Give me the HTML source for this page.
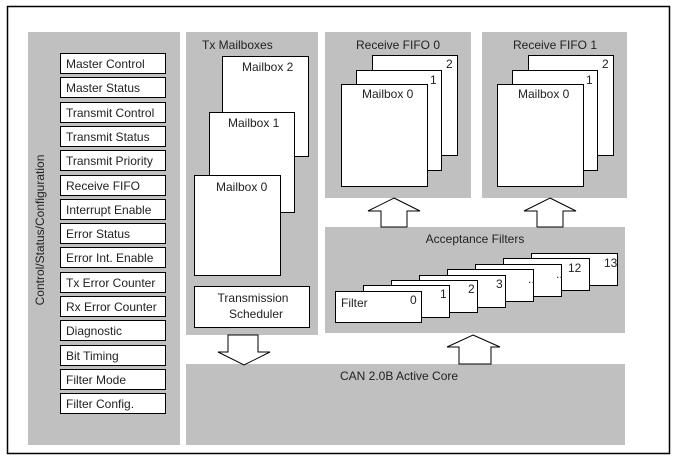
<!DOCTYPE html>
<html><head><meta charset="utf-8"><style>
html,body{margin:0;padding:0;background:#fff;width:679px;height:464px;overflow:hidden}
text{font-family:"Liberation Sans",Arial,sans-serif;font-size:12px;fill:#222}
</style></head><body>
<svg width="679" height="464" xmlns="http://www.w3.org/2000/svg">
<rect x="7.5" y="6.5" width="662" height="447" fill="#fff" stroke="#000" stroke-width="1.5"/>
<g fill="#c0c0c0">
<rect x="28" y="32" width="152" height="413"/>
<rect x="186" y="32" width="132" height="303"/>
<rect x="325" y="32" width="146" height="166"/>
<rect x="482" y="32" width="145" height="166"/>
<rect x="325" y="227" width="300" height="106"/>
<rect x="186" y="364" width="439" height="81"/>
</g>
<text x="44" y="230" text-anchor="middle" transform="rotate(-90 44 230)">Control/Status/Configuration</text>
<g stroke="#000" stroke-width="1" fill="#fff">
<rect x="60.5" y="53.5" width="105" height="20"/>
<rect x="60.5" y="77.5" width="105" height="20"/>
<rect x="60.5" y="102.5" width="105" height="20"/>
<rect x="60.5" y="126.5" width="105" height="20"/>
<rect x="60.5" y="150.5" width="105" height="20"/>
<rect x="60.5" y="175.5" width="105" height="20"/>
<rect x="60.5" y="199.5" width="105" height="20"/>
<rect x="60.5" y="223.5" width="105" height="20"/>
<rect x="60.5" y="247.5" width="105" height="20"/>
<rect x="60.5" y="272.5" width="105" height="20"/>
<rect x="60.5" y="296.5" width="105" height="20"/>
<rect x="60.5" y="320.5" width="105" height="20"/>
<rect x="60.5" y="345.5" width="105" height="20"/>
<rect x="60.5" y="369.5" width="105" height="20"/>
<rect x="60.5" y="393.5" width="105" height="20"/>
</g>
<g>
<text x="66" y="68">Master Control</text>
<text x="66" y="92">Master Status</text>
<text x="66" y="117">Transmit Control</text>
<text x="66" y="141">Transmit Status</text>
<text x="66" y="165">Transmit Priority</text>
<text x="66" y="190">Receive FIFO</text>
<text x="66" y="214">Interrupt Enable</text>
<text x="66" y="238">Error Status</text>
<text x="66" y="262">Error Int. Enable</text>
<text x="66" y="287">Tx Error Counter</text>
<text x="66" y="311">Rx Error Counter</text>
<text x="66" y="335">Diagnostic</text>
<text x="66" y="360">Bit Timing</text>
<text x="66" y="384">Filter Mode</text>
<text x="66" y="408">Filter Config.</text>
</g>
<text x="202" y="49">Tx Mailboxes</text>
<g stroke="#000" stroke-width="1" fill="#fff">
<rect x="222.5" y="56.5" width="86" height="100"/>
<rect x="209.5" y="112.5" width="85" height="100"/>
<rect x="194.5" y="175.5" width="86" height="100"/>
<rect x="194.5" y="286.5" width="115" height="41"/>
</g>
<text x="242" y="71">Mailbox 2</text>
<text x="228" y="127">Mailbox 1</text>
<text x="216" y="191">Mailbox 0</text>
<text x="253" y="302" text-anchor="middle">Transmission</text>
<text x="256" y="318" text-anchor="middle">Scheduler</text>
<text x="398" y="49" text-anchor="middle">Receive FIFO 0</text>
<text x="555" y="49" text-anchor="middle">Receive FIFO 1</text>
<g stroke="#000" stroke-width="1" fill="#fff">
<rect x="372.5" y="55.5" width="85" height="100"/>
<rect x="356.5" y="70.5" width="85" height="100"/>
<rect x="341.5" y="84.5" width="86" height="102"/>
<rect x="528.5" y="55.5" width="85" height="100"/>
<rect x="512.5" y="70.5" width="85" height="100"/>
<rect x="497.5" y="84.5" width="86" height="102"/>
</g>
<text x="446" y="68">2</text><text x="430" y="84">1</text><text x="362" y="98">Mailbox 0</text>
<text x="602" y="68">2</text><text x="586" y="84">1</text><text x="518" y="98">Mailbox 0</text>
<text x="475" y="243" text-anchor="middle">Acceptance Filters</text>
<g stroke="#000" stroke-width="1" fill="#fff">
<rect x="531.5" y="253.5" width="86" height="32"/>
<rect x="503.5" y="258.5" width="86" height="32"/>
<rect x="475.5" y="264.5" width="86" height="32"/>
<rect x="447.5" y="269.5" width="86" height="32"/>
<rect x="419.5" y="275.5" width="86" height="32"/>
<rect x="391.5" y="280.5" width="86" height="32"/>
<rect x="363.5" y="285.5" width="86" height="32"/>
<rect x="335.5" y="291.5" width="86" height="31"/>
</g>
<text x="604" y="267">13</text><text x="568" y="272">12</text>
<text x="556" y="278">..</text><text x="528" y="283">..</text>
<text x="496" y="288">3</text><text x="468" y="293">2</text><text x="440" y="298">1</text>
<text x="410" y="304">0</text><text x="341" y="307">Filter</text>
<text x="340" y="380">CAN 2.0B Active Core</text>
<g stroke="#000" stroke-width="1" fill="#fff">
<polygon points="394,198 420,211 407,211 407,227 381,227 381,211 368,211"/>
<polygon points="550,198 576,211 563,211 563,227 537,227 537,211 524,211"/>
<polygon points="473,335 500,347 491,347 491,364 459,364 459,347 447,347"/>
<polygon points="228,335 258,335 258,352 270,352 244,365 218,352 228,352"/>
</g>
</svg>
</body></html>
